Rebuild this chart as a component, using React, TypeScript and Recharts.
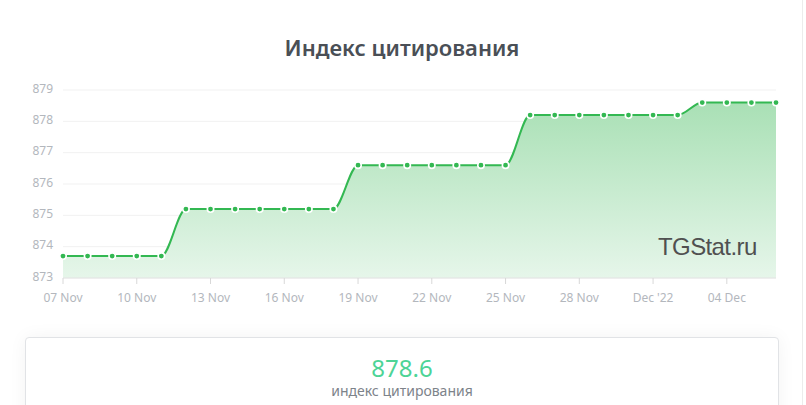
import React from "react";
import { AreaChart, Area, XAxis, YAxis, CartesianGrid } from "recharts";

const dates = [
  "07 Nov", "08 Nov", "09 Nov", "10 Nov", "11 Nov", "12 Nov", "13 Nov", "14 Nov", "15 Nov", "16 Nov",
  "17 Nov", "18 Nov", "19 Nov", "20 Nov", "21 Nov", "22 Nov", "23 Nov", "24 Nov", "25 Nov", "26 Nov",
  "27 Nov", "28 Nov", "29 Nov", "30 Nov", "01 Dec", "02 Dec", "03 Dec", "04 Dec", "05 Dec", "06 Dec",
];
const values = [
  873.7, 873.7, 873.7, 873.7, 873.7,
  875.2, 875.2, 875.2, 875.2, 875.2, 875.2, 875.2,
  876.6, 876.6, 876.6, 876.6, 876.6, 876.6, 876.6,
  878.2, 878.2, 878.2, 878.2, 878.2, 878.2, 878.2,
  878.6, 878.6, 878.6, 878.6,
];
const xTickIndex = [0, 3, 6, 9, 12, 15, 18, 21, 24, 27];
const xTickLabels = ["07 Nov", "10 Nov", "13 Nov", "16 Nov", "19 Nov", "22 Nov", "25 Nov", "28 Nov", "Dec '22", "04 Dec"];
const yTicks = [873, 874, 875, 876, 877, 878, 879];
const title = "Индекс цитирования";
const summaryValue = "878.6";
const summaryLabel = "индекс цитирования";
const watermark = "TGStat.ru";

const data = values.map((v, i) => ({ i, date: dates[i], value: v }));

const FONT = "'Noto Sans', 'Open Sans', sans-serif";
const GREEN = "#33b852";

const YTick = (props: any) => {
  const { x, y, payload } = props;
  return (
    <text x={x} y={y - 2} textAnchor="end" dominantBaseline="central" fill="#b3b7bd" fontSize={12} fontFamily={FONT}>
      {payload.value}
    </text>
  );
};

const XTick = (props: any) => {
  const { x, y, payload } = props;
  const idx = xTickIndex.indexOf(payload.value);
  return (
    <text x={x} y={y + 11} textAnchor="middle" dominantBaseline="central" fill="#b3b7bd" fontSize={12} fontFamily={FONT}>
      {idx >= 0 ? xTickLabels[idx] : ""}
    </text>
  );
};

const Dot = (props: any) => {
  const { cx, cy } = props;
  if (cx == null || cy == null) return null;
  return <circle cx={cx} cy={cy} r={3.2} fill={GREEN} stroke="#ffffff" strokeWidth={1.6} />;
};

export default function App() {
  return (
    <div style={{ position: "absolute", left: 0, top: 0, width: 806, height: 405, overflow: "hidden", background: "#fff", fontFamily: FONT }}>
      <div style={{ position: "absolute", left: 802, top: 0, width: 1, height: 405, background: "#ececec" }} />
      <div style={{ position: "absolute", left: 0, top: 32, width: 804, textAlign: "center", fontSize: 22, fontWeight: 600, color: "#4a4f56", lineHeight: "30px" }}>
        {title}
      </div>
      <div style={{ position: "absolute", left: 0, top: 0 }}>
        <AreaChart width={806} height={405} data={data} margin={{ top: 90, right: 30, bottom: 97, left: 0 }}>
          <defs>
            <linearGradient id="gfill" x1="0" y1="0" x2="0" y2="1">
              <stop offset="0%" stopColor="#a9e0b5" stopOpacity={1} />
              <stop offset="100%" stopColor="#e6f6ea" stopOpacity={1} />
            </linearGradient>
          </defs>
          <CartesianGrid horizontal={true} vertical={false} stroke="#f1f1f1" />
          <XAxis
            dataKey="i"
            type="number"
            domain={[0, 29]}
            ticks={xTickIndex}
            height={30}
            axisLine={{ stroke: "#e3e3e3" }}
            tickLine={{ stroke: "#d8d8d8" }}
            tickSize={6}
            tick={<XTick />}
            interval={0}
          />
          <YAxis
            type="number"
            domain={[873, 879]}
            ticks={yTicks}
            width={63}
            axisLine={false}
            tickLine={false}
            tickSize={6}
            tickMargin={4}
            tick={<YTick />}
            interval={0}
          />
          <Area
            type="monotone"
            dataKey="value"
            stroke={GREEN}
            strokeWidth={2}
            fill="url(#gfill)"
            fillOpacity={1}
            dot={<Dot />}
            activeDot={false}
            isAnimationActive={false}
            baseValue={873}
          />
        </AreaChart>
      </div>
      <div style={{ position: "absolute", left: 658, top: 232, fontFamily: "'Liberation Sans', Arial, sans-serif", fontSize: 24, letterSpacing: -0.6, color: "#505050", lineHeight: "30px" }}>
        {watermark}
      </div>
      <div style={{ position: "absolute", left: 25, top: 337, width: 752, height: 100, border: "1px solid #e1e3e6", borderRadius: 4, background: "#fff", boxShadow: "0 0 18px rgba(0,0,0,0.05)" }}>
        <div style={{ position: "absolute", left: 0, right: 0, top: 15, textAlign: "center", fontSize: 24, color: "#4dd496", lineHeight: "30px" }}>
          {summaryValue}
        </div>
        <div style={{ position: "absolute", left: 0, right: 0, top: 43, textAlign: "center", fontSize: 14, color: "#7d838a", lineHeight: "20px" }}>
          {summaryLabel}
        </div>
      </div>
    </div>
  );
}
